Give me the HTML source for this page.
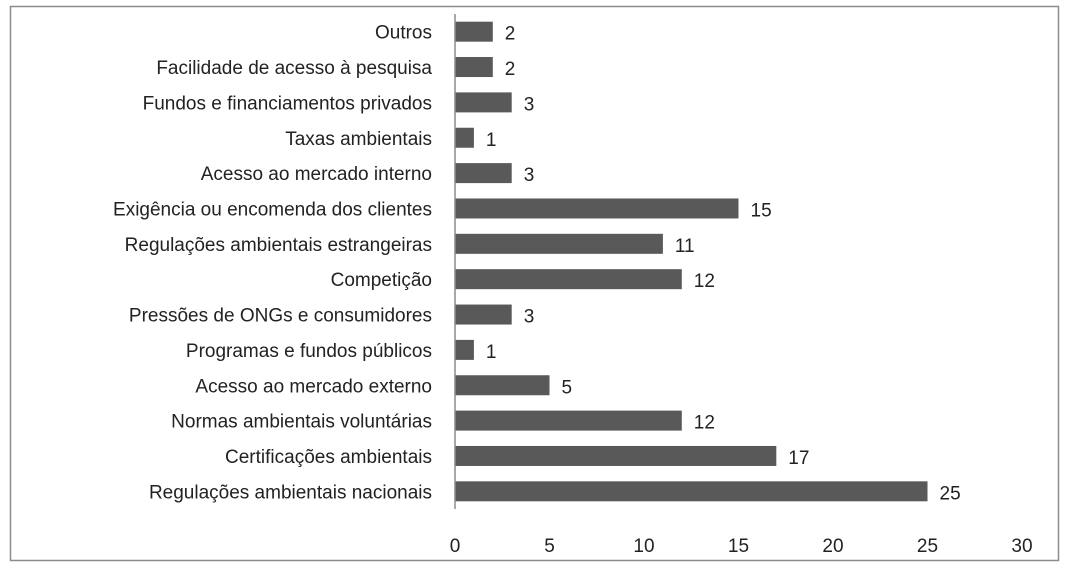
<!DOCTYPE html>
<html><head><meta charset="utf-8"><style>
body{margin:0;background:#fff;width:1068px;height:568px;overflow:hidden}
svg{display:block;font-family:"Liberation Sans",sans-serif}
</style></head><body>
<svg width="1068" height="568">
<rect x="10.5" y="6.5" width="1048" height="554" fill="none" stroke="#8c8c8c" stroke-width="1.5"/>
<g id="g"></g>
</svg>
<script>
const categories=["Outros","Facilidade de acesso à pesquisa","Fundos e financiamentos privados","Taxas ambientais","Acesso ao mercado interno","Exigência ou encomenda dos clientes","Regulações ambientais estrangeiras","Competição","Pressões de ONGs e consumidores","Programas e fundos públicos","Acesso ao mercado externo","Normas ambientais voluntárias","Certificações ambientais","Regulações ambientais nacionais"];
const values=[2,2,3,1,3,15,11,12,3,1,5,12,17,25];
const ticks=[0,5,10,15,20,25,30];
const x0=455,x1=1022,yTop=14,yBot=509,xmax=30;
const xs=v=>x0+v/xmax*(x1-x0);
const band=(yBot-yTop)/categories.length;
const ys=i=>yTop+band*i+band/2;
const g=document.getElementById('g');const NS='http://www.w3.org/2000/svg';
function mk(t,a,txt){const e=document.createElementNS(NS,t);for(const k in a)e.setAttribute(k,a[k]);if(txt!=null)e.textContent=txt;g.appendChild(e);return e;}
categories.forEach((c,i)=>{
 const y=ys(i);
 const r=mk('rect',{x:x0,y:y-10,width:xs(values[i])-x0,height:20,fill:'#595959'});
 
 
 const l=mk('text',{x:432,y:y+7,'text-anchor':'end','font-size':19,fill:'#222'},c);
 
 
 const v=mk('text',{x:xs(values[i])+12,y:y+8,'font-size':19,fill:'#222'},values[i]);
 
 
});
const ax=mk('line',{x1:x0,y1:yTop,x2:x0,y2:yBot,stroke:'#8c8c8c','stroke-width':1.5});


ticks.forEach(t=>{
 const e=mk('text',{x:xs(t),y:552,'text-anchor':'middle','font-size':19,fill:'#222'},t);
 
 
});
</script>
</body></html>
